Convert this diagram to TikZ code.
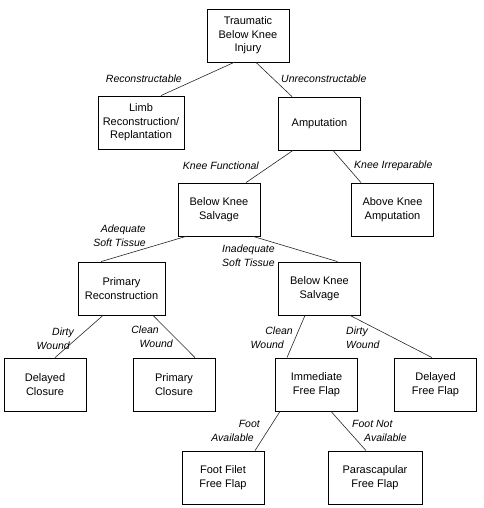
\documentclass[tikz,border=0pt]{standalone}
\usepackage{fontspec}
\setmainfont{Liberation Sans}
\usetikzlibrary{positioning,calc}
\tikzset{
  box/.style={draw=black, line width=0.8pt, minimum width=82pt, minimum height=53pt,
    align=center, inner sep=2pt, font=\fontsize{11}{13.5}\selectfont},
  branch/.style={line width=0.6pt, black!85},
  tag/.style={font=\itshape\fontsize{10.5}{14}\selectfont, inner sep=0pt},
}

\begin{document}
\begin{tikzpicture}[x=1pt,y=-1pt]
    \useasboundingbox (0,0) rectangle (483,508);
    % boxes
    \node[box] (inj) at (248,35.5) {Traumatic\\Below Knee\\Injury};
    \node[box, minimum width=86pt] (limb) at (141,122.5) {Limb\\Reconstruction/\\Replantation};
    \node[box] (amp) at (319.5,123.5) {Amputation};
    \node[box] (bks) at (219,209.5) {Below Knee\\Salvage};
    \node[box] (aka) at (392.5,209.5) {Above Knee\\Amputation};
    \node[box, minimum width=87pt] (prim) at (121.5,288.5) {Primary\\Reconstruction};
    \node[box] (bksb) at (319.5,288.5) {Below Knee\\Salvage};
    \node[box] (dclos) at (45,384.5) {Delayed\\Closure};
    \node[box] (pclos) at (174,384.5) {Primary\\Closure};
    \node[box] (iflap) at (316.5,384.5) {Immediate\\Free Flap};
    \node[box] (dflap) at (435.5,384.5) {Delayed\\Free Flap};
    \node[box] (filet) at (223,477.5) {Foot Filet\\Free Flap};
    \node[box, minimum width=94pt] (para) at (375,477.5) {Parascapular\\Free Flap};
    % branches
    \draw[branch] ([xshift=-14pt]inj.south) -- ([xshift=20pt]limb.north);
    \draw[branch] ([xshift=8pt]inj.south) -- ([xshift=-27.5pt]amp.north);
    \draw[branch] ([xshift=-26.5pt]amp.south) -- ([xshift=27pt]bks.north);
    \draw[branch] ([xshift=13.5pt]amp.south) -- ([xshift=-31.5pt]aka.north);
    \draw[branch] ([xshift=-33pt]bks.south) -- ([xshift=-20.5pt]prim.north);
    \draw[branch] ([xshift=34pt]bks.south) -- ([xshift=18pt]bksb.north);
    \draw[branch] ([xshift=-18.5pt]prim.south) -- ([xshift=10pt]dclos.north);
    \draw[branch] ([xshift=31.5pt]prim.south) -- ([xshift=21pt]pclos.north);
    \draw[branch] ([xshift=-14.5pt]bksb.south) -- ([xshift=-29.5pt]iflap.north);
    \draw[branch] ([xshift=30.5pt]bksb.south) -- ([xshift=-3.5pt]dflap.north);
    \draw[branch] ([xshift=-36.5pt]iflap.south) -- ([xshift=32pt]filet.north);
    \draw[branch] ([xshift=14.5pt]iflap.south) -- ([xshift=-9pt]para.north);
    % branch labels
    \node[tag, anchor=east] (trec) at (182,79) {Reconstructable};
    \node[tag, anchor=west] (tunrec) at (281,79) {Unreconstructable};
    \node[tag, anchor=east] (tfunc) at (259,166) {Knee Functional};
    \node[tag, anchor=west] (tirrep) at (354,166) {Knee Irreparable};
    \node[tag, anchor=east, align=right] (tadeq) at (146,236) {Adequate\\Soft Tissue};
    \node[tag, anchor=west, align=left] (tinadeq) at (222,256) {Inadequate\\Soft Tissue};
    \node[tag, anchor=east, align=right] (tdirtya) at (75,339) {Dirty\hspace*{1pt}\\Wound\hspace*{5pt}};
    \node[tag, anchor=east, align=right] (tcleana) at (173,337) {Clean\hspace*{14pt}\\Wound};
    \node[tag, anchor=east, align=right] (tcleanb) at (293,338) {Clean\\Wound\hspace*{9pt}};
    \node[tag, anchor=west, align=left] (tdirtyb) at (346,338) {Dirty\\Wound};
    \node[tag, anchor=east, align=right] (tfoota) at (260,431) {Foot\\Available\hspace*{6pt}};
    \node[tag, anchor=west, align=left] (tfootb) at (352,431) {Foot Not\\\hspace*{12pt}Available};
\end{tikzpicture}
\end{document}
